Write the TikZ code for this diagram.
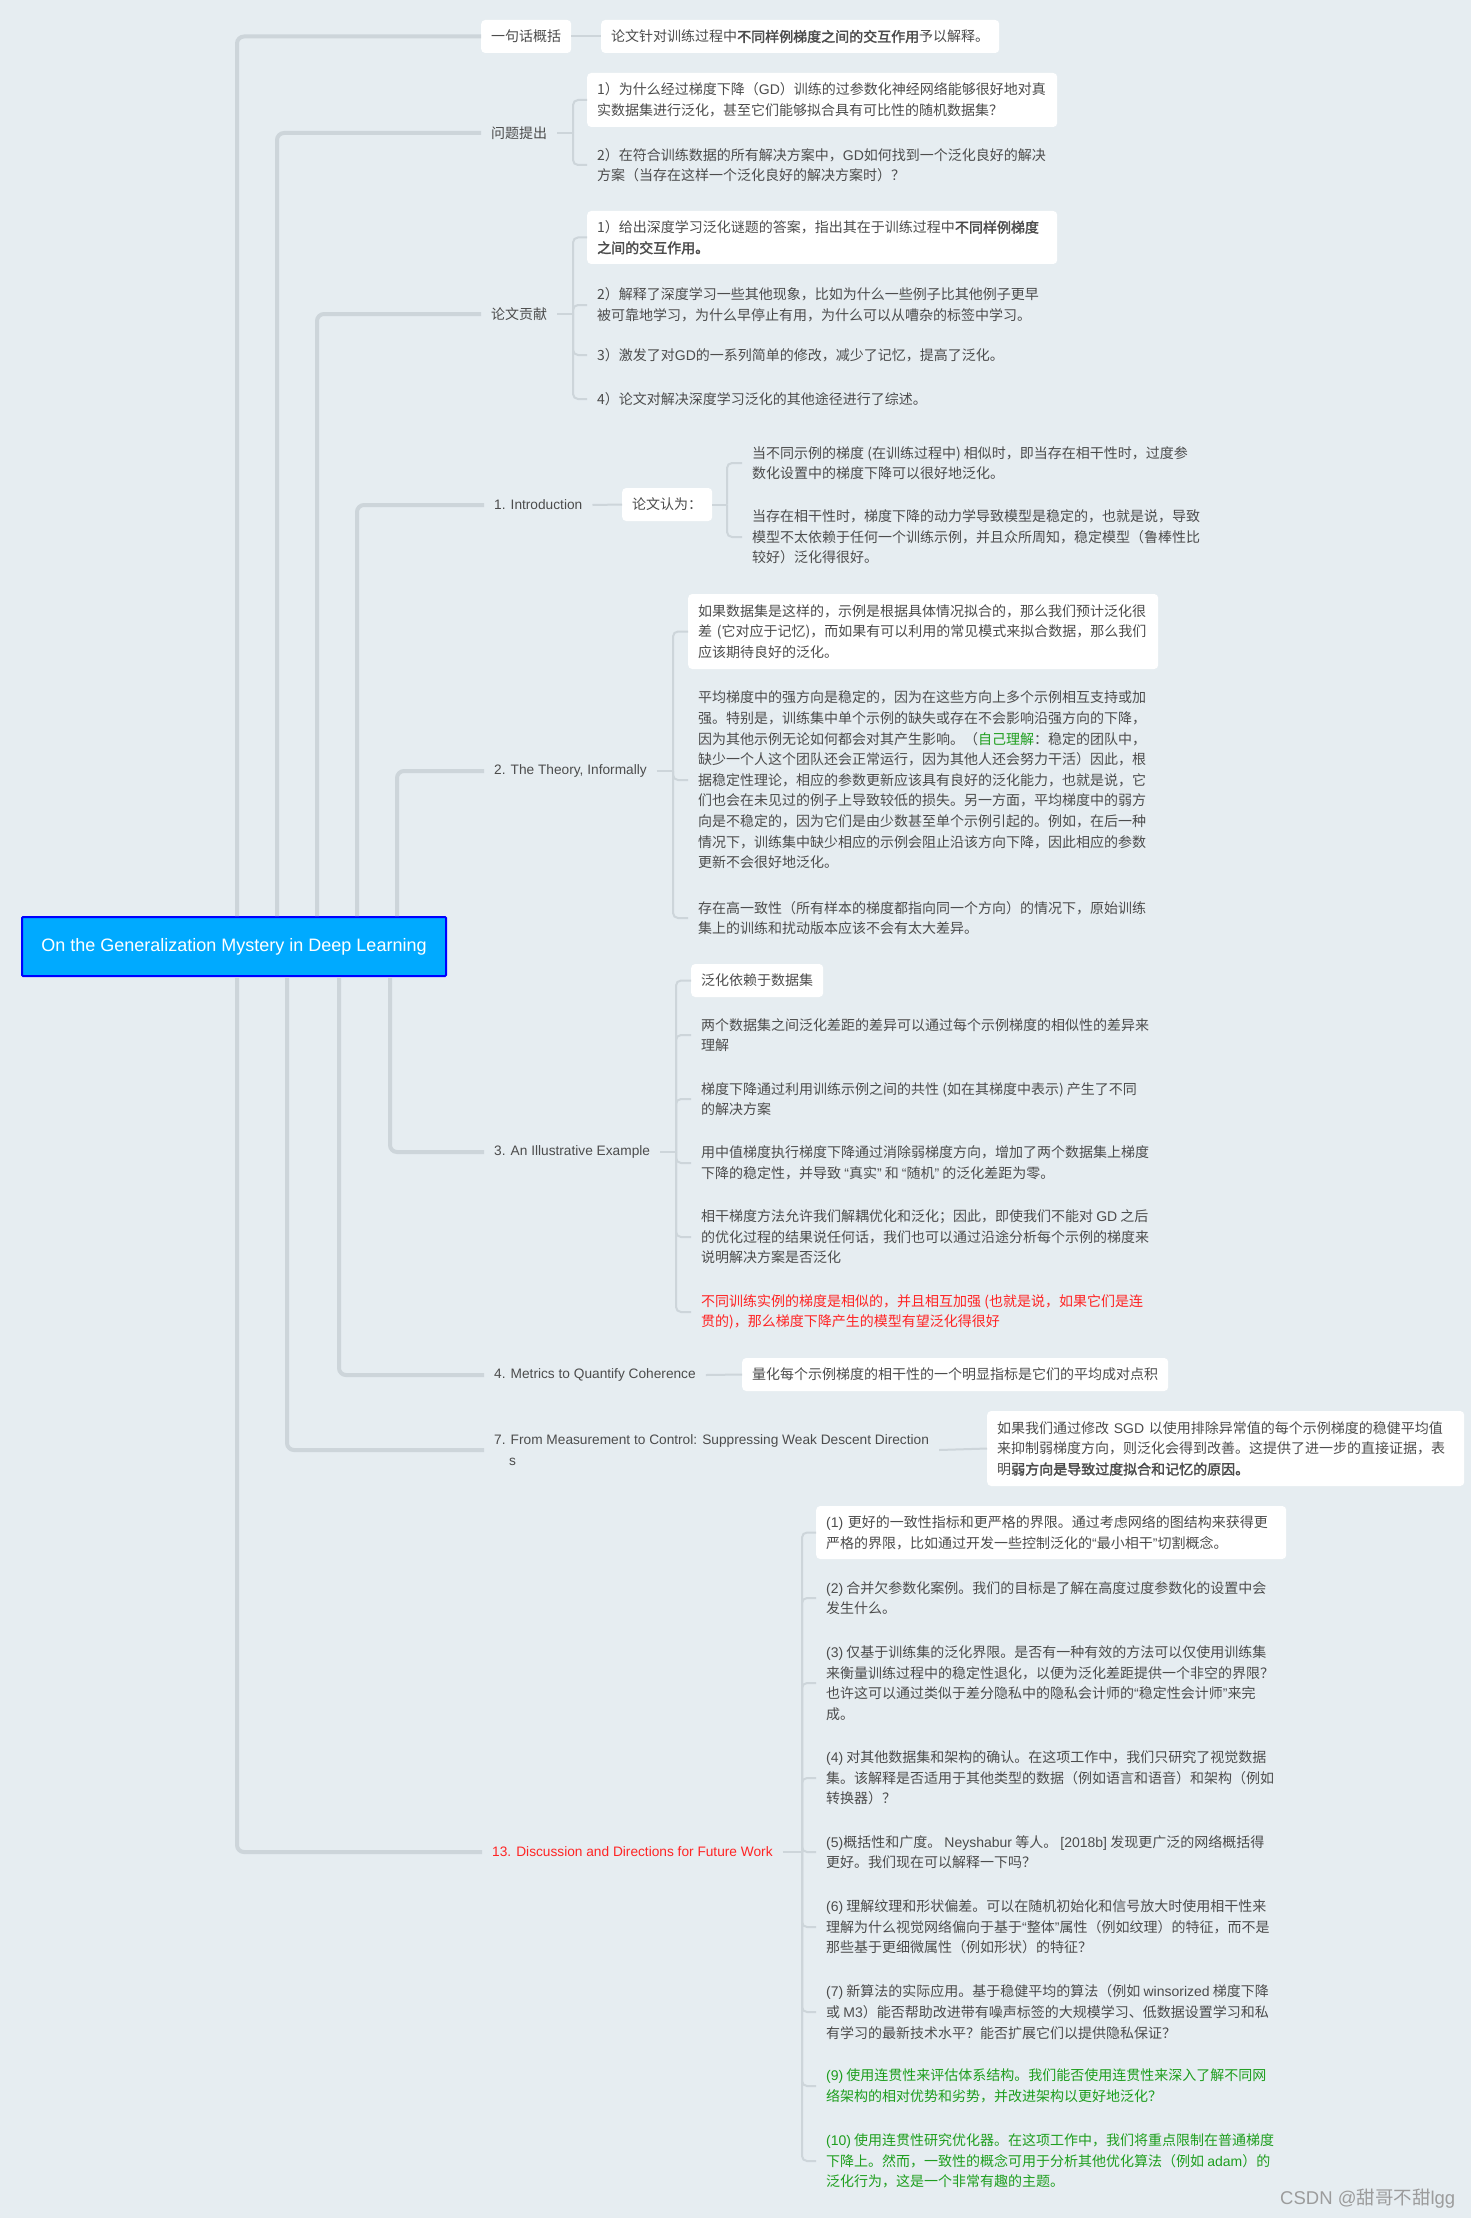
\documentclass[tikz,border=0pt]{standalone}
\usepackage{fontspec}
\setmainfont{Noto Sans CJK SC}[AutoFakeBold=2]
\newfontfamily\lat{Liberation Sans}
\definecolor{bg}{HTML}{E6EDF1}
\definecolor{ln}{HTML}{CDD5DA}
\definecolor{tx}{HTML}{4C4C4C}
\definecolor{rd}{HTML}{FF2424}
\definecolor{gn}{HTML}{1E9E1E}
\definecolor{rootfill}{HTML}{00AAFF}
\definecolor{rootdraw}{HTML}{0000FF}
\definecolor{wmc}{HTML}{9C9C9C}
\newcommand\fs{\fontsize{14pt}{20.6pt}\selectfont}
\newcommand\fsl{\fontsize{13.7pt}{20.6pt}\selectfont}
\newcommand\qo{{\lat “}}
\newcommand\qc{{\lat ”}}
\tikzset{
  tnode/.style={anchor=west, inner xsep=10pt, inner ysep=0pt, align=left, text=tx, font=\fs},
  tbox/.style={tnode, fill=white, rounded corners=4pt},
  lab/.style={tnode, font=\lat\fsl},
  branch/.style={draw=ln, line width=4pt, rounded corners=7pt},
  twig/.style={draw=ln, line width=2pt, rounded corners=5pt},
}
\begin{document}
\begin{tikzpicture}[x=1pt,y=-1pt]
\fill[bg] (0,0) rectangle (1471,2218);
\useasboundingbox (0,0) rectangle (1471,2218);

% root
\node[draw=rootdraw, line width=2pt, fill=rootfill, text=white, font=\lat\fontsize{18pt}{22pt}\selectfont,
  minimum width=424pt, minimum height=59pt, anchor=west, rounded corners=1pt] (root) at (21,946.5)
  {On the Generalization Mystery in Deep Learning};

% level 1
\node[tbox, minimum height=33pt] (sum) at (481,36.5) {一句话概括};
\node[tbox, minimum height=33pt] (sumt) at (601,36.5) {论文针对训练过程中\textbf{不同样例梯度之间的交互作用}予以解释。};

\node[tnode] (q) at (481,133) {问题提出};
\node[tbox, text width=450pt, minimum height=54pt] (q1) at (587,100)
  {1）为什么经过梯度下降（{\lat GD}）训练的过参数化神经网络能够很好地对真\\实数据集进行泛化，甚至它们能够拟合具有可比性的随机数据集？};
\node[tnode] (q2) at (587,165)
  {2）在符合训练数据的所有解决方案中，{\lat GD}如何找到一个泛化良好的解决\\方案（当存在这样一个泛化良好的解决方案时）？};

\node[tnode] (c) at (481,314) {论文贡献};
\node[tbox, text width=450pt, minimum height=53pt] (c1) at (587,237.5)
  {1）给出深度学习泛化谜题的答案，指出其在于训练过程中\textbf{不同样例梯度}\\\textbf{之间的交互作用。}};
\node[tnode] (c2) at (587,305)
  {2）解释了深度学习一些其他现象，比如为什么一些例子比其他例子更早\\被可靠地学习，为什么早停止有用，为什么可以从嘈杂的标签中学习。};
\node[tnode] (c3) at (587,355) {3）激发了对{\lat GD}的一系列简单的修改，减少了记忆，提高了泛化。};
\node[tnode] (c4) at (587,399) {4）论文对解决深度学习泛化的其他途径进行了综述。};

\node[lab] (intro) at (484,505) {1. Introduction};
\node[tbox, minimum height=33pt] (ib) at (622,504.5) {论文认为：};
\node[tnode] (i1) at (742,463)
  {当不同示例的梯度 (在训练过程中) 相似时，即当存在相干性时，过度参\\数化设置中的梯度下降可以很好地泛化。};
\node[tnode] (i2) at (742,537)
  {当存在相干性时，梯度下降的动力学导致模型是稳定的，也就是说，导致\\模型不太依赖于任何一个训练示例，并且众所周知，稳定模型（鲁棒性比\\较好）泛化得很好。};

\node[lab] (th) at (484,771) {2. The Theory, Informally};
\node[tbox, text width=450pt, minimum height=75pt] (t1) at (688,631.5)
  {如果数据集是这样的，示例是根据具体情况拟合的，那么我们预计泛化很\\差 (它对应于记忆)，而如果有可以利用的常见模式来拟合数据，那么我们\\应该期待良好的泛化。};
\node[tnode] (t2) at (688,780)
  {平均梯度中的强方向是稳定的，因为在这些方向上多个示例相互支持或加\\
   强。特别是，训练集中单个示例的缺失或存在不会影响沿强方向的下降，\\
   因为其他示例无论如何都会对其产生影响。（\textcolor{gn}{自己理解}：稳定的团队中，\\
   缺少一个人这个团队还会正常运行，因为其他人还会努力干活）因此，根\\
   据稳定性理论，相应的参数更新应该具有良好的泛化能力，也就是说，它\\
   们也会在未见过的例子上导致较低的损失。另一方面，平均梯度中的弱方\\
   向是不稳定的，因为它们是由少数甚至单个示例引起的。例如，在后一种\\
   情况下，训练集中缺少相应的示例会阻止沿该方向下降，因此相应的参数\\
   更新不会很好地泛化。};
\node[tnode] (t3) at (688,918)
  {存在高一致性（所有样本的梯度都指向同一个方向）的情况下，原始训练\\集上的训练和扰动版本应该不会有太大差异。};

\node[lab] (ex) at (484,1152) {3. An Illustrative Example};
\node[tbox, minimum height=33pt] (e1) at (691,980.5) {泛化依赖于数据集};
\node[tnode] (e2) at (691,1035)
  {两个数据集之间泛化差距的差异可以通过每个示例梯度的相似性的差异来\\理解};
\node[tnode] (e3) at (691,1099)
  {梯度下降通过利用训练示例之间的共性 (如在其梯度中表示) 产生了不同\\的解决方案};
\node[tnode] (e4) at (691,1163)
  {用中值梯度执行梯度下降通过消除弱梯度方向，增加了两个数据集上梯度\\下降的稳定性，并导致 \qo 真实\qc{} 和 \qo 随机\qc{} 的泛化差距为零。};
\node[tnode] (e5) at (691,1237)
  {相干梯度方法允许我们解耦优化和泛化；因此，即使我们不能对 {\lat GD} 之后\\的优化过程的结果说任何话，我们也可以通过沿途分析每个示例的梯度来\\说明解决方案是否泛化};
\node[tnode, text=rd] (e6) at (691,1312)
  {不同训练实例的梯度是相似的，并且相互加强 (也就是说，如果它们是连\\贯的)，那么梯度下降产生的模型有望泛化得很好};

\node[lab] (met) at (484,1375) {4. Metrics to Quantify Coherence};
\node[tbox, minimum height=33pt] (m1) at (742,1374.5) {量化每个示例梯度的相干性的一个明显指标是它们的平均成对点积};

\node[lab] (meas) at (484,1450) {7. From Measurement to Control: Suppressing Weak Descent Direction\\\hspace*{15pt}s};
\node[tbox, text width=457pt, minimum height=75pt] (ms1) at (987,1448.5)
  {如果我们通过修改 {\lat SGD} 以使用排除异常值的每个示例梯度的稳健平均值\\来抑制弱梯度方向，则泛化会得到改善。这提供了进一步的直接证据，表\\明\textbf{弱方向是导致过度拟合和记忆的原因。}};

\node[lab, text=rd] (disc) at (482,1852) {13. Discussion and Directions for Future Work};
\node[tbox, text width=450pt, minimum height=53pt] (d1) at (816,1532.5)
  {{\lat (1)} 更好的一致性指标和更严格的界限。通过考虑网络的图结构来获得更\\严格的界限，比如通过开发一些控制泛化的\qo 最小相干\qc 切割概念。};
\node[tnode] (d2) at (816,1598)
  {{\lat (2)} 合并欠参数化案例。我们的目标是了解在高度过度参数化的设置中会\\发生什么。};
\node[tnode] (d3) at (816,1683)
  {{\lat (3)} 仅基于训练集的泛化界限。是否有一种有效的方法可以仅使用训练集\\来衡量训练过程中的稳定性退化，以便为泛化差距提供一个非空的界限？\\也许这可以通过类似于差分隐私中的隐私会计师的\qo 稳定性会计师\qc 来完\\成。};
\node[tnode] (d4) at (816,1778)
  {{\lat (4)} 对其他数据集和架构的确认。在这项工作中，我们只研究了视觉数据\\集。该解释是否适用于其他类型的数据（例如语言和语音）和架构（例如\\转换器）？};
\node[tnode] (d5) at (816,1852)
  {{\lat (5)}概括性和广度。 {\lat Neyshabur} 等人。 {\lat [2018b]} 发现更广泛的网络概括得\\更好。我们现在可以解释一下吗？};
\node[tnode] (d6) at (816,1927)
  {{\lat (6)} 理解纹理和形状偏差。可以在随机初始化和信号放大时使用相干性来\\理解为什么视觉网络偏向于基于\qo 整体\qc 属性（例如纹理）的特征，而不是\\那些基于更细微属性（例如形状）的特征？};
\node[tnode] (d7) at (816,2012)
  {{\lat (7)} 新算法的实际应用。基于稳健平均的算法（例如 {\lat winsorized} 梯度下降\\或 {\lat M3}）能否帮助改进带有噪声标签的大规模学习、低数据设置学习和私\\有学习的最新技术水平？能否扩展它们以提供隐私保证？};
\node[tnode, text=gn] (d8) at (816,2086)
  {{\lat (9)} 使用连贯性来评估体系结构。我们能否使用连贯性来深入了解不同网\\络架构的相对优势和劣势，并改进架构以更好地泛化？};
\node[tnode, text=gn] (d9) at (816,2161)
  {{\lat (10)} 使用连贯性研究优化器。在这项工作中，我们将重点限制在普通梯度\\下降上。然而，一致性的概念可用于分析其他优化算法（例如 {\lat adam}）的\\泛化行为，这是一个非常有趣的主题。};

\node[anchor=west, inner sep=0pt, text=wmc, font=\fontsize{18.5pt}{22pt}\selectfont] (wm) at (1280,2199)
  {{\lat CSDN @}甜哥不甜{\lat lgg}};

% trunk x positions
\coordinate (a1) at (237,0);
\coordinate (a2) at (277,0);
\coordinate (a3) at (317,0);
\coordinate (a4) at (357,0);
\coordinate (a5) at (397,0);
\coordinate (b1) at (390,0);
\coordinate (b2) at (339,0);
\coordinate (b3) at (287,0);
\coordinate (b4) at (237,0);
% bracket x positions
\coordinate (kq) at (573,0);
\coordinate (kc) at (573,0);
\coordinate (ki) at (727,0);
\coordinate (kt) at (673,0);
\coordinate (ke) at (676,0);
\coordinate (kd) at (802,0);

% main branches
\draw[branch] (root.north -| a1) |- (sum.west);
\draw[branch] (root.north -| a2) |- (q.west);
\draw[branch] (root.north -| a3) |- (c.west);
\draw[branch] (root.north -| a4) |- (intro.west);
\draw[branch] (root.north -| a5) |- (th.west);
\draw[branch] (root.south -| b1) |- (ex.west);
\draw[branch] (root.south -| b2) |- (met.west);
\draw[branch] (root.south -| b3) |- (meas.west);
\draw[branch] (root.south -| b4) |- (disc.west);

% single children
\draw[twig] (sum.east) -- (sumt.west);
\draw[twig] (intro.east) -- (ib.west);
\draw[twig] (met.east) -- (m1.west);
\draw[twig] (meas.east) -- (ms1.west);

% brackets
\draw[twig] (q.east) -- (q.east -| kq);
\foreach \n in {q1,q2} \draw[twig] (q.east -| kq) |- (\n.west);
\draw[twig] (c.east) -- (c.east -| kc);
\foreach \n in {c1,c2,c3,c4} \draw[twig] (c.east -| kc) |- (\n.west);
\draw[twig] (ib.east) -- (ib.east -| ki);
\foreach \n in {i1,i2} \draw[twig] (ib.east -| ki) |- (\n.west);
\draw[twig] (th.east) -- (th.east -| kt);
\foreach \n in {t1,t2,t3} \draw[twig] (th.east -| kt) |- (\n.west);
\draw[twig] (ex.east) -- (ex.east -| ke);
\foreach \n in {e1,e2,e3,e4,e5,e6} \draw[twig] (ex.east -| ke) |- (\n.west);
\draw[twig] (disc.east) -- (disc.east -| kd);
\foreach \n in {d1,d2,d3,d4,d5,d6,d7,d8,d9} \draw[twig] (disc.east -| kd) |- (\n.west);
\end{tikzpicture}
\end{document}
